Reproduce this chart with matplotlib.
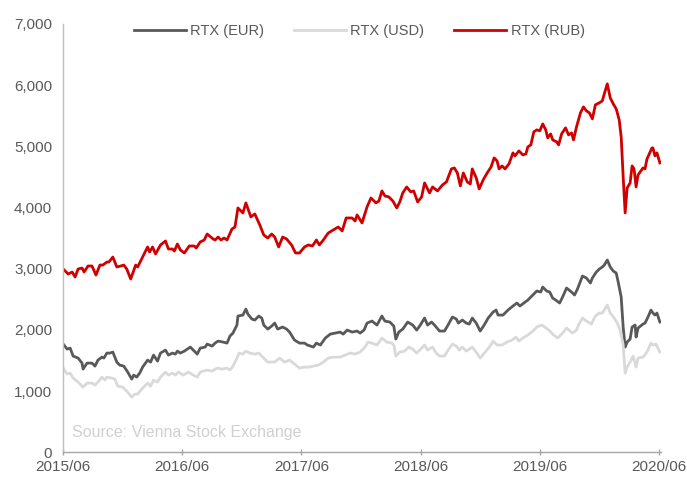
import matplotlib
matplotlib.use("Agg")
import matplotlib.pyplot as plt
from matplotlib.ticker import FuncFormatter

plt.rcParams['font.family'] = ['Liberation Sans', 'DejaVu Sans']

# x values: months since 2015/06
rub_m = [0.0, 0.5, 0.9, 1.2, 1.5, 1.9, 2.1, 2.5, 2.9, 3.3, 3.7, 4.0, 4.4, 4.6, 5.0, 5.4, 5.8, 6.1, 6.4, 6.8,
         7.3, 7.5, 8.0, 8.5, 8.7, 9.0, 9.3, 9.8, 10.3, 10.6, 11.0, 11.2, 11.5, 11.8, 12.2, 12.7, 13.2, 13.4, 13.8, 14.2,
         14.5, 15.1, 15.3, 15.6, 15.9, 16.2, 16.5, 17.0, 17.3, 17.6, 18.1, 18.4, 18.9, 19.3, 19.8, 20.2, 20.6, 21.0, 21.3, 21.7,
         22.1, 22.5, 23.0, 23.4, 23.8, 24.3, 24.7, 25.1, 25.5, 25.8, 26.2, 26.7, 27.2, 27.7, 28.1, 28.5, 29.1, 29.4, 29.6, 30.1,
         30.6, 31.0, 31.5, 31.8, 32.1, 32.4, 32.8, 33.2, 33.6, 33.9, 34.2, 34.6, 35.0, 35.3, 35.7, 36.1, 36.4, 36.9, 37.2, 37.7,
         38.2, 38.6, 39.1, 39.4, 39.7, 40.0, 40.3, 40.7, 41.0, 41.2, 41.6, 41.9, 42.3, 42.7, 43.1, 43.4, 43.7, 43.9, 44.2, 44.5,
         44.9, 45.3, 45.5, 45.9, 46.3, 46.6, 46.8, 47.1, 47.4, 47.7, 48.0, 48.3, 48.6, 48.8, 49.1, 49.3, 49.7, 49.9, 50.2, 50.6,
         50.9, 51.2, 51.4, 51.7, 52.1, 52.4, 52.7, 53.0, 53.3, 53.6, 54.0, 54.3, 54.5, 54.8, 55.1, 55.4, 55.7, 56.0, 56.2, 56.4,
         56.6, 56.8, 57.1, 57.3, 57.5, 57.7, 57.9, 58.4, 58.6, 58.8, 59.3, 59.4, 59.6, 59.8, 60.1]
rub_v = [2994, 2912, 2945, 2863, 2994, 3010, 2945, 3043, 3043, 2896, 3059, 3059, 3108, 3108, 3190, 3027, 3043, 3059, 2994, 2830,
         3059, 3027, 3190, 3354, 3272, 3354, 3239, 3387, 3452, 3321, 3321, 3288, 3403, 3305, 3256, 3370, 3370, 3337, 3436, 3468,
         3566, 3485, 3468, 3517, 3468, 3501, 3468, 3648, 3681, 3992, 3910, 4074, 3845, 3894, 3714, 3550, 3501, 3566, 3517, 3354,
         3517, 3485, 3387, 3256, 3256, 3354, 3387, 3370, 3468, 3387, 3468, 3583, 3632, 3681, 3616, 3828, 3828, 3779, 3877, 3746,
         4008, 4155, 4074, 4106, 4270, 4188, 4172, 4106, 3992, 4090, 4237, 4335, 4254, 4270, 4090, 4172, 4401, 4237, 4335, 4270,
         4368, 4417, 4630, 4646, 4564, 4352, 4564, 4417, 4384, 4630, 4483, 4303, 4450, 4564, 4663, 4810, 4761, 4630, 4679, 4630,
         4712, 4892, 4843, 4924, 4859, 4875, 4990, 5023, 5235, 5268, 5252, 5366, 5268, 5137, 5202, 5104, 5072, 5023, 5202, 5301,
         5186, 5219, 5104, 5317, 5546, 5644, 5579, 5546, 5448, 5677, 5710, 5742, 5857, 6020, 5791, 5693, 5611, 5432, 5153, 4499,
         3910, 4319, 4401, 4679, 4630, 4335, 4532, 4646, 4630, 4793, 4973, 4973, 4843, 4892, 4728]

eur_m = [0.0, 0.4, 0.7, 1.0, 1.5, 1.9, 2.0, 2.4, 2.9, 3.2, 3.5, 3.9, 4.1, 4.4, 4.7, 5.0, 5.4, 5.7, 6.1, 6.5,
         6.9, 7.1, 7.4, 7.7, 8.0, 8.5, 8.8, 9.1, 9.5, 9.8, 10.3, 10.6, 11.0, 11.3, 11.5, 11.8, 12.2, 12.8, 13.1, 13.5,
         13.8, 14.3, 14.5, 15.0, 15.3, 15.6, 16.1, 16.5, 16.8, 17.1, 17.5, 17.6, 18.1, 18.4, 18.6, 19.0, 19.3, 19.7, 20.0, 20.2,
         20.6, 21.0, 21.3, 21.6, 22.1, 22.5, 22.8, 23.3, 23.8, 24.3, 24.6, 25.2, 25.5, 25.9, 26.4, 26.9, 27.4, 27.9, 28.2, 28.6,
         29.1, 29.6, 29.9, 30.3, 30.6, 31.1, 31.6, 32.1, 32.4, 32.9, 33.3, 33.5, 33.8, 34.2, 34.7, 35.2, 35.6, 35.9, 36.4, 36.7,
         37.1, 37.4, 37.9, 38.4, 38.7, 39.2, 39.6, 39.8, 40.2, 40.6, 40.9, 41.2, 41.6, 42.0, 42.4, 42.8, 43.3, 43.6, 43.8, 44.3,
         44.8, 45.3, 45.7, 46.0, 46.4, 46.8, 47.3, 47.7, 48.1, 48.3, 48.7, 49.0, 49.3, 49.6, 50.0, 50.3, 50.7, 51.2, 51.5, 51.8,
         52.3, 52.7, 53.1, 53.3, 53.7, 54.0, 54.3, 54.5, 54.8, 55.1, 55.4, 55.7, 55.9, 56.2, 56.4, 56.6, 56.8, 57.1, 57.3, 57.6,
         57.7, 57.9, 58.4, 58.6, 58.9, 59.2, 59.4, 59.6, 59.8, 60.1]
eur_v = [1767, 1685, 1701, 1571, 1538, 1456, 1358, 1456, 1456, 1407, 1505, 1554, 1538, 1620, 1620, 1636, 1472, 1423, 1407, 1309,
         1194, 1260, 1227, 1292, 1391, 1505, 1472, 1587, 1489, 1620, 1669, 1587, 1620, 1603, 1652, 1620, 1652, 1718, 1669, 1603,
         1701, 1718, 1767, 1734, 1783, 1816, 1800, 1783, 1898, 1947, 2078, 2225, 2241, 2339, 2258, 2176, 2160, 2225, 2192, 2078,
         2012, 2061, 2110, 2012, 2045, 2012, 1963, 1832, 1783, 1783, 1751, 1718, 1783, 1751, 1865, 1930, 1947, 1963, 1930, 1996,
         1963, 1980, 1947, 1996, 2110, 2143, 2078, 2225, 2143, 2127, 2061, 1849, 1963, 2012, 2127, 2078, 1996, 2061, 2192, 2078,
         2127, 2078, 1980, 1980, 2061, 2209, 2176, 2110, 2160, 2110, 2094, 2192, 2110, 1980, 2078, 2192, 2290, 2323, 2241, 2241,
         2323, 2389, 2438, 2389, 2438, 2487, 2569, 2634, 2618, 2699, 2634, 2618, 2519, 2487, 2438, 2536, 2683, 2618, 2569, 2667,
         2879, 2847, 2765, 2847, 2945, 2994, 3027, 3059, 3141, 3027, 2961, 2928, 2781, 2536, 2045, 1718, 1800, 1849, 2045, 2078,
         1881, 2029, 2094, 2110, 2209, 2323, 2274, 2241, 2274, 2127]

usd_m = [0.0, 0.4, 0.7, 1.0, 1.5, 2.0, 2.4, 2.9, 3.2, 3.5, 3.9, 4.2, 4.4, 4.9, 5.2, 5.5, 6.0, 6.4, 6.9, 7.2,
         7.5, 8.0, 8.5, 8.8, 9.1, 9.5, 9.8, 10.3, 10.6, 11.0, 11.3, 11.6, 12.1, 12.6, 13.1, 13.5, 13.8, 14.5, 15.0, 15.5,
         16.0, 16.5, 16.8, 17.1, 17.5, 17.7, 18.1, 18.4, 18.8, 19.3, 19.7, 20.2, 20.6, 21.3, 21.8, 22.3, 22.8, 23.3, 23.8, 24.3,
         24.8, 25.2, 25.7, 26.2, 26.7, 27.2, 27.9, 28.4, 28.9, 29.4, 29.9, 30.4, 30.7, 31.1, 31.6, 32.1, 32.6, 33.1, 33.3, 33.5,
         33.9, 34.4, 34.8, 35.2, 35.6, 35.9, 36.4, 36.7, 37.2, 37.5, 37.9, 38.4, 38.7, 39.2, 39.6, 39.9, 40.2, 40.6, 41.2, 41.6,
         42.0, 42.5, 43.0, 43.3, 43.7, 44.2, 44.7, 45.2, 45.6, 45.9, 46.3, 46.8, 47.3, 47.7, 48.2, 48.5, 48.9, 49.4, 49.8, 50.3,
         50.7, 51.3, 51.7, 51.9, 52.3, 52.7, 53.2, 53.6, 54.0, 54.3, 54.8, 55.1, 55.5, 55.8, 56.1, 56.4, 56.6, 56.8, 57.2, 57.4,
         57.7, 57.9, 58.4, 58.8, 59.2, 59.4, 59.7, 60.1]
usd_v = [1374, 1276, 1292, 1211, 1145, 1063, 1129, 1129, 1096, 1145, 1227, 1178, 1227, 1211, 1194, 1080, 1063, 998, 900, 949,
         949, 1047, 1129, 1080, 1178, 1145, 1227, 1309, 1260, 1292, 1260, 1309, 1260, 1309, 1260, 1227, 1309, 1342, 1325, 1374,
         1358, 1374, 1342, 1407, 1538, 1620, 1603, 1652, 1620, 1603, 1620, 1538, 1472, 1472, 1538, 1472, 1505, 1440, 1374, 1391,
         1391, 1407, 1423, 1472, 1538, 1554, 1554, 1587, 1620, 1603, 1636, 1718, 1800, 1783, 1751, 1865, 1800, 1783, 1751, 1571,
         1636, 1652, 1718, 1685, 1620, 1669, 1751, 1669, 1718, 1636, 1571, 1571, 1652, 1767, 1734, 1669, 1718, 1652, 1718, 1636,
         1538, 1636, 1734, 1816, 1751, 1751, 1800, 1832, 1881, 1816, 1865, 1914, 1980, 2045, 2078, 2045, 1996, 1914, 1865, 1947,
         2029, 1947, 1996, 2078, 2192, 2143, 2094, 2225, 2274, 2274, 2405, 2274, 2192, 2110, 1996, 1751, 1292, 1391, 1505, 1571,
         1391, 1538, 1554, 1636, 1783, 1751, 1767, 1636]

tick_months = [0, 12, 24, 36, 48, 60]
tick_labels = ["2015/06", "2016/06", "2017/06", "2018/06", "2019/06", "2020/06"]
series_names = ["RTX (EUR)", "RTX (USD)", "RTX (RUB)"]
source_text = "Source: Vienna Stock Exchange"

fig = plt.figure(figsize=(6.87, 4.78), dpi=100)
ax = fig.add_axes([0.092, 0.054, 0.870, 0.896])

ax.plot(eur_m, eur_v, color="#595959", lw=2.0, label=series_names[0], solid_joinstyle="round")
ax.plot(usd_m, usd_v, color="#d9d9d9", lw=2.0, label=series_names[1], solid_joinstyle="round")
ax.plot(rub_m, rub_v, color="#d00000", lw=2.0, label=series_names[2], solid_joinstyle="round")

ax.set_xlim(0, 60.2)
ax.set_ylim(0, 7000)
ax.set_yticks(range(0, 7001, 1000))
ax.yaxis.set_major_formatter(FuncFormatter(lambda v, p: f"{int(v):,}"))
ax.set_xticks(tick_months)
ax.set_xticklabels(tick_labels)

for s in ["top", "right"]:
    ax.spines[s].set_visible(False)
ax.spines["left"].set_color("#bfbfbf")
ax.spines["bottom"].set_color("#a6a6a6")
ax.spines["left"].set_linewidth(1.0)
ax.spines["bottom"].set_linewidth(1.0)

ax.tick_params(axis="y", length=0, labelsize=11, labelcolor="#595959", pad=8)
ax.tick_params(axis="x", length=5, width=1, color="#a6a6a6", direction="inout",
               labelsize=11, labelcolor="#595959", pad=3)

leg = ax.legend(loc="upper center", bbox_to_anchor=(0.495, 1.03), ncol=3, frameon=False,
                fontsize=10.5, handlelength=3.6, columnspacing=2.0, handletextpad=0.3)
for t in leg.get_texts():
    t.set_color("#595959")

ax.text(0.015, 0.045, source_text, transform=ax.transAxes, fontsize=11.5,
        color="#d0d0d0", ha="left", va="center")

fig.savefig("out.png", dpi=100)
